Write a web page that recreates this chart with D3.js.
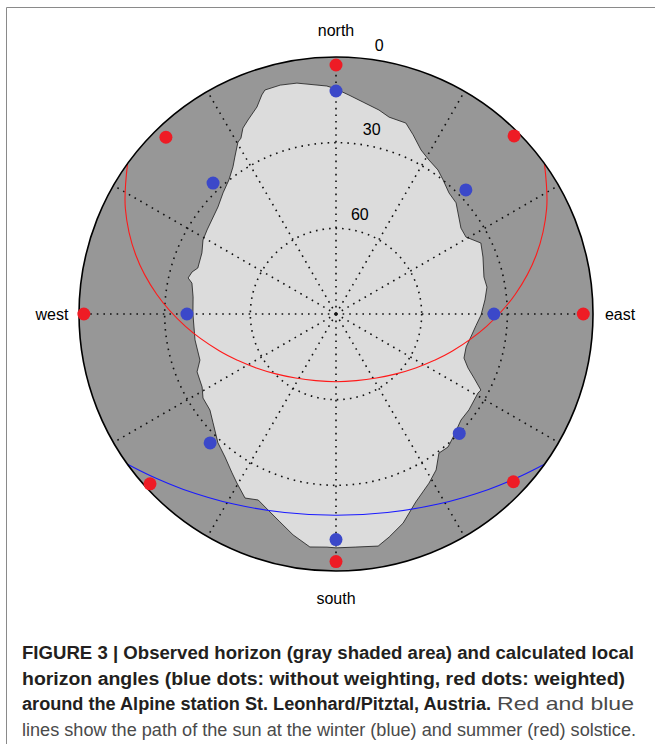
<!DOCTYPE html>
<html><head><meta charset="utf-8">
<script src="https://cdn.jsdelivr.net/npm/d3@7"></script>
<style>
html,body{margin:0;padding:0;background:#fff;}
svg{display:block;}
</style></head><body>
<svg id="chart" width="655" height="744"></svg>
<script>
// ---------- data ----------
const directionNames = ["north", "east", "south", "west"];
const directionAz = [0, 90, 180, 270];
const ringTicks = [0, 30, 60];
const gridRings = [30, 60];
const spokeAz = [0, 30, 60, 90, 120, 150, 180, 210, 240, 270, 300, 330];

// calculated local horizon angles
const blueAz   = [0, 46.3, 90, 134.1, 180, 224.3, 270, 316.8];
const blueElev = [11.9, 27.1, 34.7, 29.9, 11.0, 26.9, 37.8, 27.1];   // without weighting
const redAz    = [0, 45, 90, 133.4, 180, 227.6, 270, 316.1];
const redElev  = [2.8, 1.8, 3.4, 4.5, 3.3, 1.8, 1.7, 4.1];           // weighted

// observed horizon (azimuth deg, elevation deg)
const horizonAz = [0, 3.4, 7.3, 11.9, 15.1, 20.1, 23.3, 27.4, 31.1, 35.3, 38.6, 43.0, 47.2, 51.7, 55.5, 59.4,
  63.9, 68.8, 76.0, 79.9, 84.6, 90.4, 94.7, 99.7, 104.2, 109.0, 112.2, 114.9, 117.7, 119.1, 125.8, 130.3,
  136.4, 139.9, 143.5, 147.3, 151.2, 157.0, 162.2, 166.6, 169.7, 175.3, 180, 182.2, 186.4, 191.0, 195.1,
  198.4, 202.7, 206.3, 210.4, 213.2, 217.8, 222.5, 228.5, 232.7, 237.7, 241.4, 247.4, 251.3, 259.6, 270,
  276.8, 282.1, 283.7, 286.3, 288.4, 294.5, 299.1, 303.1, 308.3, 312.2, 317.0, 321.4, 325.0, 327.2, 330.3,
  331.6, 333.4, 335.6, 339.1, 341.3, 342.4, 346.3, 350.4, 357.7];
const horizonElev = [11.2, 13.2, 15.2, 17.0, 18.6, 18.8, 21.7, 25.3, 27.0, 28.2, 29.9, 32.0, 32.7, 35.2, 36.9, 37.1,
  33.5, 34.8, 36.6, 36.3, 37.6, 39.2, 40.8, 42.1, 43.0, 42.6, 40.1, 36.7, 32.7, 33.1, 32.6, 32.6,
  30.5, 29.1, 29.4, 25.1, 22.4, 18.5, 13.1, 9.7, 7.4, 8.1, 8.1, 8.3, 7.9, 11.2, 14.6,
  16.9, 19.4, 18.1, 21.4, 23.5, 26.6, 28.8, 32.5, 34.5, 34.9, 36.6, 37.3, 39.7, 39.8, 39.9,
  39.6, 38.4, 36.7, 37.5, 39.0, 38.4, 36.7, 36.1, 35.2, 34.2, 32.0, 29.9, 27.1, 24.6, 20.7,
  20.0, 17.2, 15.4, 12.4, 9.0, 7.7, 7.5, 8.0, 10.1];

// sun path, summer solstice (red)
const summerAz   = [54.2, 63.4, 73.6, 83.8, 94.7, 107.5, 115.2, 124.1, 134.9, 147.8, 163.1, 180,
  196.9, 212.2, 225.1, 235.9, 244.8, 252.5, 265.3, 276.2, 286.4, 296.6, 305.8];
const summerElev = [0, 7.5, 16.9, 26.9, 37.1, 47.1, 51.9, 56.3, 60.3, 63.5, 65.6, 66.3,
  65.6, 63.5, 60.3, 56.3, 51.9, 47.1, 37.1, 26.9, 16.9, 7.5, 0];
// sun path, winter solstice (blue)
const winterAz   = [125.8, 131.1, 139.0, 151.7, 165.5, 180, 194.5, 208.3, 221.0, 228.9, 234.2];
const winterElev = [0, 3.8, 8.6, 14.4, 18.2, 19.5, 18.2, 14.4, 8.6, 3.8, 0];

const captionBold = [
  "FIGURE 3 | Observed horizon (gray shaded area) and calculated local",
  "horizon angles (blue dots: without weighting, red dots: weighted)",
  "around the Alpine station St. Leonhard/Pitztal, Austria."
];
const captionRegular = ["Red and blue",
  "lines show the path of the sun at the winter (blue) and summer (red) solstice."];

// ---------- drawing ----------
const svg = d3.select("#chart");
const cx = 336, cy = 314, R = 257;

// frame
svg.append("path").attr("d", "M6.5,744 V7.5 H655").attr("fill", "none")
  .attr("stroke", "#8a8a8a").attr("stroke-width", 1);

const rScale = d3.scaleLinear().domain([90, 0]).range([0, R]);
const aScale = d3.scaleLinear().domain([0, 360]).range([0, 2 * Math.PI]);
const px = (az, el) => cx + rScale(el) * Math.sin(aScale(az));
const py = (az, el) => cy - rScale(el) * Math.cos(aScale(az));
const pxr = (az, r) => cx + r * Math.sin(aScale(az));
const pyr = (az, r) => cy - r * Math.cos(aScale(az));

const g = svg.append("g").attr("transform", `translate(${cx},${cy})`);

// background disk (0 elevation)
g.append("circle").attr("r", rScale(0)).attr("fill", "#979797");

// horizon
const horizon = horizonAz.map((a, i) => ({az: a, el: horizonElev[i]}));
const radial = d3.lineRadial().angle(d => aScale(d.az)).radius(d => rScale(d.el));
g.append("path").datum(horizon)
  .attr("d", radial.curve(d3.curveLinearClosed))
  .attr("fill", "#dcdcdc").attr("stroke", "#1a1a1a").attr("stroke-width", 0.8);

// grid
const dotStyle = sel => sel.attr("fill", "none").attr("stroke", "#111")
  .attr("stroke-width", 1.6).attr("stroke-dasharray", "1.6 5");
g.selectAll("circle.ring").data(gridRings).join("circle").attr("class", "ring")
  .attr("r", d => rScale(d)).call(dotStyle);
g.selectAll("line.spoke").data(spokeAz).join("line").attr("class", "spoke")
  .attr("x1", 0).attr("y1", 0)
  .attr("x2", d => rScale(0) * Math.sin(aScale(d)))
  .attr("y2", d => -rScale(0) * Math.cos(aScale(d)))
  .call(dotStyle);

// sun paths
const lineOpen = d3.lineRadial().angle(d => aScale(d.az)).radius(d => rScale(d.el)).curve(d3.curveCatmullRom);
g.append("path").datum(summerAz.map((a, i) => ({az: a, el: summerElev[i]})))
  .attr("d", lineOpen).attr("fill", "none").attr("stroke", "#ff1a1a").attr("stroke-width", 1.1);
g.append("path").datum(winterAz.map((a, i) => ({az: a, el: winterElev[i]})))
  .attr("d", lineOpen).attr("fill", "none").attr("stroke", "#1a1aff").attr("stroke-width", 1.1);

// outer circle
g.append("circle").attr("r", rScale(0)).attr("fill", "none").attr("stroke", "#000").attr("stroke-width", 1.6);

// dots
svg.selectAll("circle.blue").data(blueAz).join("circle").attr("class", "blue")
  .attr("cx", (d, i) => px(d, blueElev[i])).attr("cy", (d, i) => py(d, blueElev[i]))
  .attr("r", 6.5).attr("fill", "#3b48c9");
svg.selectAll("circle.red").data(redAz).join("circle").attr("class", "red")
  .attr("cx", (d, i) => px(d, redElev[i])).attr("cy", (d, i) => py(d, redElev[i]))
  .attr("r", 6.5).attr("fill", "#ee1c25");

// ring tick labels
svg.selectAll("text.tick").data(ringTicks).join("text").attr("class", "tick")
  .attr("x", d => px(8, d) + 3).attr("y", d => py(8, d) - 9)
  .attr("font-family", "Liberation Sans, Arial, sans-serif").attr("font-size", 16)
  .attr("fill", "#000").text(d => d);

// direction labels
svg.selectAll("text.dir").data(directionAz).join("text").attr("class", "dir")
  .attr("x", d => pxr(d, R + 27)).attr("y", d => pyr(d, R + 27))
  .attr("text-anchor", "middle").attr("dominant-baseline", "central")
  .attr("font-family", "Liberation Sans, Arial, sans-serif").attr("font-size", 16)
  .attr("fill", "#000").text((d, i) => directionNames[i]);

// caption
const cap = [
  {t: captionBold[0], x: 22, w: 612, y: 659, b: true, fs: 17.5},
  {t: captionBold[1], x: 22, w: 603, y: 684.5, b: true, fs: 17.5},
  {t: captionBold[2], x: 22, w: 469, y: 710, b: true, fs: 17.5},
  {t: captionRegular[0], x: 497, w: 137, y: 710, b: false, fs: 19},
  {t: captionRegular[1], x: 22, w: 614, y: 735.5, b: false, fs: 17.5}
];
svg.selectAll("text.cap").data(cap).join("text").attr("class", "cap")
  .attr("x", d => d.x).attr("y", d => d.y)
  .attr("textLength", d => d.w).attr("lengthAdjust", "spacingAndGlyphs")
  .attr("font-family", "Liberation Sans, Arial, sans-serif").attr("font-size", d => d.fs)
  .attr("font-weight", d => d.b ? "bold" : "normal")
  .attr("fill", d => d.b ? "#231f20" : "#4a4a4a")
  .text(d => d.t);
</script>
</body></html>
